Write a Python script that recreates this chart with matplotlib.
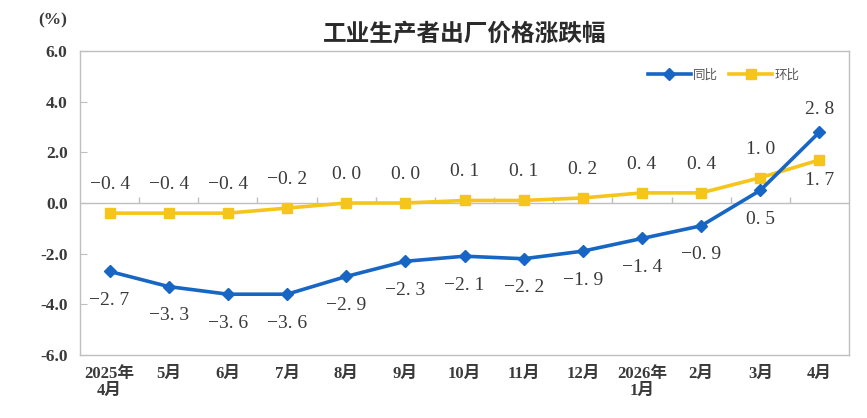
import numpy as np
import matplotlib.pyplot as plt

# ── data ─────────────────────────────────────────────────────────────────────
months = ["2025年\n4月", "5月", "6月", "7月", "8月", "9月", "10月", "11月",
          "12月", "2026年\n1月", "2月", "3月", "4月"]
yoy = [-2.7, -3.3, -3.6, -3.6, -2.9, -2.3, -2.1, -2.2, -1.9, -1.4, -0.9, 0.5, 2.8]
mom = [-0.4, -0.4, -0.4, -0.2, 0.0, 0.0, 0.1, 0.1, 0.2, 0.4, 0.4, 1.0, 1.7]
yticks = [-6.0, -4.0, -2.0, 0.0, 2.0, 4.0, 6.0]

BLUE = "#1766C3"
YELLOW = "#F6C51B"
GRID = "#BFBFBF"
TXT = "#3A3A3A"
SERIF = ["Liberation Serif", "Noto Sans CJK SC"]
CJK = ["Noto Sans CJK SC", "DejaVu Sans"]


def fmt(v):
    s = f"{v:.1f}".replace(".", ". ")
    return s.replace("-", "\u2212")


def main():
    fig = plt.figure(figsize=(8.67, 4.18), dpi=100)
    ax = fig.add_axes([0.0923, 0.1507, 0.8870, 0.7273])

    x = np.arange(len(months))

    ax.plot(x, yoy, color=BLUE, lw=2.6, marker="D", ms=6.5, label="同比", zorder=4)
    ax.plot(x, mom, color=YELLOW, lw=2.6, marker="s", ms=7, label="环比", zorder=3)

    # data labels
    for i, v in enumerate(yoy):
        dy = 16 if i == len(yoy) - 1 else -21
        ax.annotate(fmt(v), (i, v), xytext=(0, dy), textcoords="offset points",
                    ha="center", va="center", fontsize=14, color=TXT,
                    family=SERIF)
    for i, v in enumerate(mom):
        dy = -15 if i == len(mom) - 1 else 20.5
        ax.annotate(fmt(v), (i, v), xytext=(0, dy), textcoords="offset points",
                    ha="center", va="center", fontsize=14, color=TXT,
                    family=SERIF)

    # zero line with category ticks
    ax.axhline(0, color=GRID, lw=1.0, zorder=1)
    ax.vlines(np.arange(0.5, len(months) - 1, 1), 0, 0.25, color=GRID, lw=1.0, zorder=1)

    ax.set_xlim(-0.5, len(months) - 0.5)
    ax.set_ylim(-6, 6)
    ax.set_yticks(yticks)
    ax.set_yticklabels([f"{t:.1f}" for t in yticks])
    ax.set_xticks(x)
    ax.set_xticklabels(months)

    ax.tick_params(axis="y", direction="in", length=5, color=GRID, pad=9,
                   labelsize=12.5, labelcolor=TXT)
    ax.tick_params(axis="x", length=0, pad=8, labelsize=12, labelcolor=TXT)
    for lab in ax.get_yticklabels() + ax.get_xticklabels():
        lab.set_family(SERIF)
        lab.set_fontweight("bold")
    for lab in ax.get_xticklabels():
        lab.set_linespacing(1.05)

    for sp in ax.spines.values():
        sp.set_color(GRID)
        sp.set_linewidth(1.0)

    ax.text(-0.035, 1.10, "(%)", transform=ax.transAxes, ha="center", va="center",
            fontsize=12.5, fontweight="bold", color=TXT, family=SERIF)
    ax.set_title("工业生产者出厂价格涨跌幅", fontsize=17, family=CJK,
                 fontweight="bold", color="#2A2A2A", pad=7)

    leg = ax.legend(loc="center", bbox_to_anchor=(0.837, 0.921), ncol=2,
                    frameon=False, handlelength=3.4, handletextpad=0.2,
                    columnspacing=0.9, prop={"family": CJK, "size": 9})
    for t in leg.get_texts():
        t.set_color("#555555")

    fig.savefig("out.png", dpi=100)


if __name__ == "__main__":
    main()
